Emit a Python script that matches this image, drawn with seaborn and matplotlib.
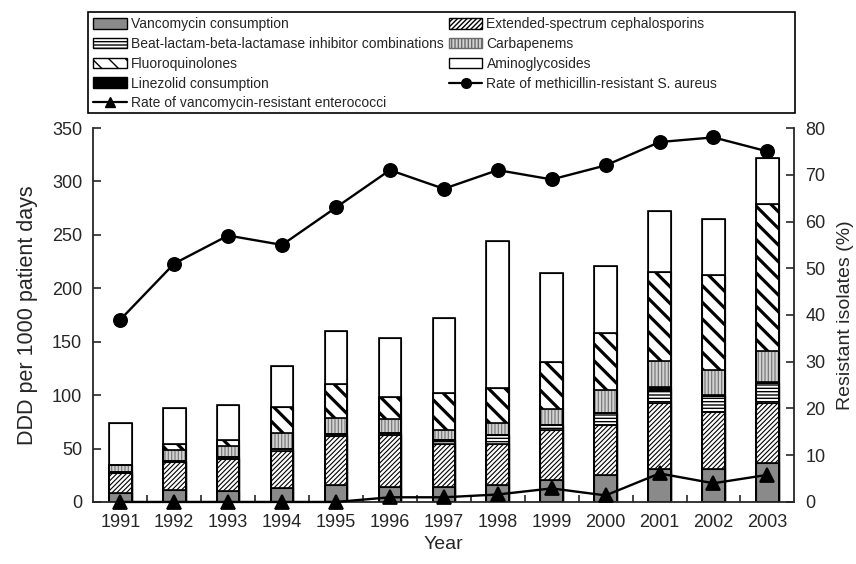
import numpy as np
import pandas as pd
import matplotlib
matplotlib.use('Agg')
import matplotlib.pyplot as plt
from matplotlib.patches import Patch, Rectangle
from matplotlib.lines import Line2D
from matplotlib.ticker import MultipleLocator, FixedLocator
import seaborn as sns

# values (DDD per 1000 patient days, stacked)
years = ['1991', '1992', '1993', '1994', '1995', '1996', '1997',
         '1998', '1999', '2000', '2001', '2002', '2003']
vancomycin = [8, 11.6, 10.3, 13.4, 16, 14, 14, 15.6, 21, 25.6, 31, 31, 36]
cephalosporins = [19.5, 25.9, 30.3, 34.4, 45.5, 48.5, 40.7, 39.1, 46, 46.3, 61.8, 52.8, 56.2]
beta_lactam = [1, 1, 1.5, 2, 2, 2, 3.1, 8.3, 5, 11.5, 12.2, 15.2, 19.4]
linezolid = [0, 0, 0, 0, 0, 0, 0, 0, 0, 0, 2.5, 1.5, 1]
carbapenems = [6.5, 10, 10.1, 14.9, 15.3, 13.5, 10, 11, 14.6, 21.3, 24.5, 22.9, 29]
fluoroquinolones = [0, 6.2, 6.2, 24.3, 31.2, 20.4, 34.2, 33, 44.4, 53.7, 83, 89.1, 137]
aminoglycosides = [39, 33.7, 32.2, 38, 50, 54.6, 70, 137.7, 83, 62.6, 57.5, 52.2, 43.3]

# resistance rates (%)
mrsa = [39, 51, 57, 55, 63, 71, 67, 71, 69, 72, 77, 78, 75]
vre = [0, 0, 0, 0, 0, 1, 1, 1.6, 2.9, 1.4, 6.1, 4, 5.8]

sns.set_style('ticks')
plt.rcParams['font.family'] = ['Liberation Sans', 'DejaVu Sans']

stack = pd.DataFrame({
    'vanco': vancomycin,
    'ceph': cephalosporins,
    'beta': beta_lactam,
    'linez': linezolid,
    'carb': carbapenems,
    'fluoro': fluoroquinolones,
    'amino': aminoglycosides,
}, index=years)
cum = stack.cumsum(axis=1)

# name: (face, hatch, hatch colour, hatch width)
styles = {
    'vanco': ('#8a8a8a', None, 'black', 1.0),
    'ceph': ('white', '///////', 'black', 0.8),
    'beta': ('white', '-----', 'black', 1.0),
    'linez': ('black', None, 'black', 1.0),
    'carb': ('#d2d2d2', '|||||', '#7a7a7a', 0.9),
    'fluoro': ('white', '\\\\', 'black', 2.3),
    'amino': ('white', None, 'black', 1.0),
}

fig = plt.figure(figsize=(8.56, 5.64), dpi=100)
ax = fig.add_axes([0.109, 0.110, 0.819, 0.663])
bw = 0.42

# overlapping cumulative bars, tallest first
for name in reversed(cum.columns):
    face, hatch, hc, hlw = styles[name]
    plt.rcParams['hatch.linewidth'] = hlw
    sns.barplot(x=years, y=cum[name].values, ax=ax, color=face, saturation=1,
                width=bw, edgecolor=hc, linewidth=0.8, hatch=hatch)
    for p in ax.containers[-1]:
        if hasattr(p, 'set_hatch_linewidth'):
            p.set_hatch_linewidth(hlw)

# black outlines of every segment
for name in cum.columns:
    sns.barplot(x=years, y=cum[name].values, ax=ax, facecolor='none',
                saturation=1, width=bw, edgecolor='black', linewidth=1.2)

ax.set_ylim(0, 350)
ax.yaxis.set_major_locator(MultipleLocator(50))
ax.set_ylabel('DDD per 1000 patient days', fontsize=15.5, labelpad=10)
ax.set_xlabel('Year', fontsize=14, labelpad=3)

ax2 = ax.twinx()
sns.pointplot(x=years, y=mrsa, ax=ax2, color='black', markers='o',
              errorbar=None, markersize=9.5, linewidth=1.7, clip_on=False)
sns.pointplot(x=years, y=vre, ax=ax2, color='black', markers='^',
              errorbar=None, markersize=10, linewidth=1.7, clip_on=False)
ax2.set_ylim(0, 80)
ax2.yaxis.set_major_locator(MultipleLocator(10))
ax2.set_ylabel('Resistant isolates (%)', fontsize=14, labelpad=8)

ax.set_xlim(-0.5, len(years) - 0.5)
ax.set_xticks(range(len(years)))
ax.set_xticklabels(years, fontsize=13)
ax.xaxis.set_minor_locator(FixedLocator(np.arange(0.5, len(years) - 1, 1)))
ax.tick_params(axis='x', which='major', length=0, pad=9)
ax.tick_params(axis='x', which='minor', direction='in', length=5, width=1.2)
ax.tick_params(axis='y', direction='in', length=6, width=1.2, labelsize=13, pad=8)
ax2.tick_params(axis='y', direction='in', length=6, width=1.2, labelsize=13, pad=8)

for a in (ax, ax2):
    a.spines['top'].set_visible(False)
    for s in ('left', 'right', 'bottom'):
        a.spines[s].set_linewidth(1.3)
ax.spines['right'].set_visible(False)
ax2.spines['left'].set_visible(False)
ax2.spines['bottom'].set_visible(False)

handles = [
    Patch(facecolor='#8a8a8a', edgecolor='black', label='Vancomycin consumption'),
    Patch(facecolor='white', edgecolor='black', hatch='-----',
          label='Beat-lactam-beta-lactamase inhibitor combinations'),
    Patch(facecolor='white', edgecolor='black', hatch='\\\\', label='Fluoroquinolones'),
    Patch(facecolor='black', edgecolor='black', label='Linezolid consumption'),
    Line2D([], [], color='black', marker='^', markersize=7, lw=1.6,
           label='Rate of vancomycin-resistant enterococci'),
    Patch(facecolor='white', edgecolor='black', hatch='///////',
          label='Extended-spectrum cephalosporins'),
    Patch(facecolor='#d2d2d2', edgecolor='#6a6a6a', hatch='|||||', label='Carbapenems'),
    Patch(facecolor='white', edgecolor='black', label='Aminoglycosides'),
    Line2D([], [], color='black', marker='o', markersize=7, lw=1.6,
           label='Rate of methicillin-resistant S. aureus'),
]
leg = fig.legend(handles=handles, ncol=2, loc='upper left',
                 bbox_to_anchor=(0.104, 0.977), frameon=False,
                 prop={'size': 10}, handlelength=2.4,
                 handleheight=0.8, handletextpad=0.3, labelspacing=0.42,
                 borderpad=0.3, borderaxespad=0, columnspacing=0.4)
# legend box spans the plot width
fig.patches.append(Rectangle((0.103, 0.800), 0.826, 0.179, transform=fig.transFigure,
                             fill=False, edgecolor='black', linewidth=1.2))

fig.savefig('out.png', dpi=100)
